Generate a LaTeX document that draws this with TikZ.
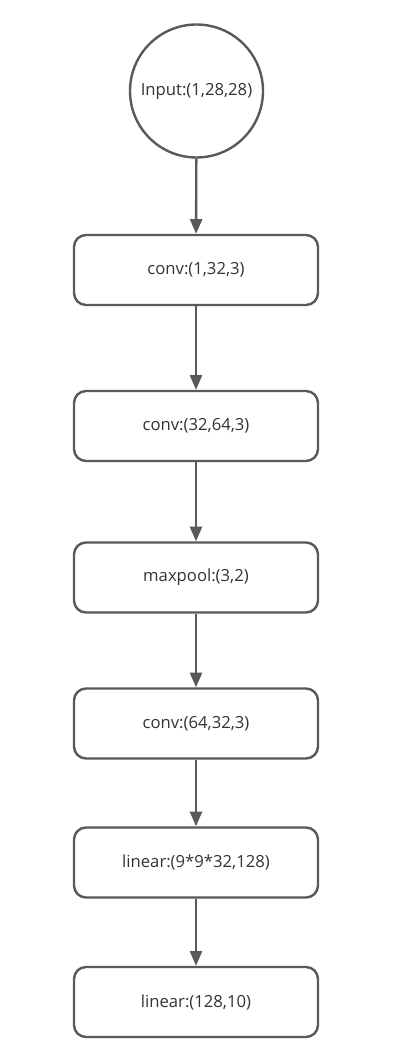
\documentclass[tikz,border=0pt]{standalone}
\usepackage{fontspec}
\setmainfont{Open Sans}
\usetikzlibrary{arrows.meta}
\definecolor{edge}{HTML}{595959}
\definecolor{txt}{HTML}{333333}
\begin{document}
\begin{tikzpicture}[x=0.75pt,y=-0.75pt,
  layer/.style={draw=edge,line width=1.8pt,rounded corners=9pt,fill=white,
    minimum width=244*0.75pt,minimum height=70*0.75pt,inner sep=0pt,
    text=txt,font=\fontsize{12.5pt}{15pt}\selectfont},
  inputnode/.style={draw=edge,line width=1.8pt,circle,fill=white,
    minimum size=133*0.75pt,inner sep=0pt,
    text=txt,font=\fontsize{12.5pt}{15pt}\selectfont},
  flow/.style={draw=edge,line width=1.8pt,-{Triangle[length=11pt,width=9pt]}}]
\useasboundingbox (0,0) rectangle (403,1062);
\node[inputnode] (in) at (196.5,91) {Input:(1,28,28)};
\node[layer] (c1) at (196,270) {conv:(1,32,3)};
\node[layer] (c2) at (196,426) {conv:(32,64,3)};
\node[layer] (mp) at (196,577.5) {maxpool:(3,2)};
\node[layer] (c3) at (196,723.5) {conv:(64,32,3)};
\node[layer] (l1) at (196,862.5) {linear:(9*9*32,128)};
\node[layer] (l2) at (196,1002) {linear:(128,10)};
\draw[flow] (in) -- (c1);
\draw[flow] (c1) -- (c2);
\draw[flow] (c2) -- (mp);
\draw[flow] (mp) -- (c3);
\draw[flow] (c3) -- (l1);
\draw[flow] (l1) -- (l2);
\end{tikzpicture}
\end{document}
